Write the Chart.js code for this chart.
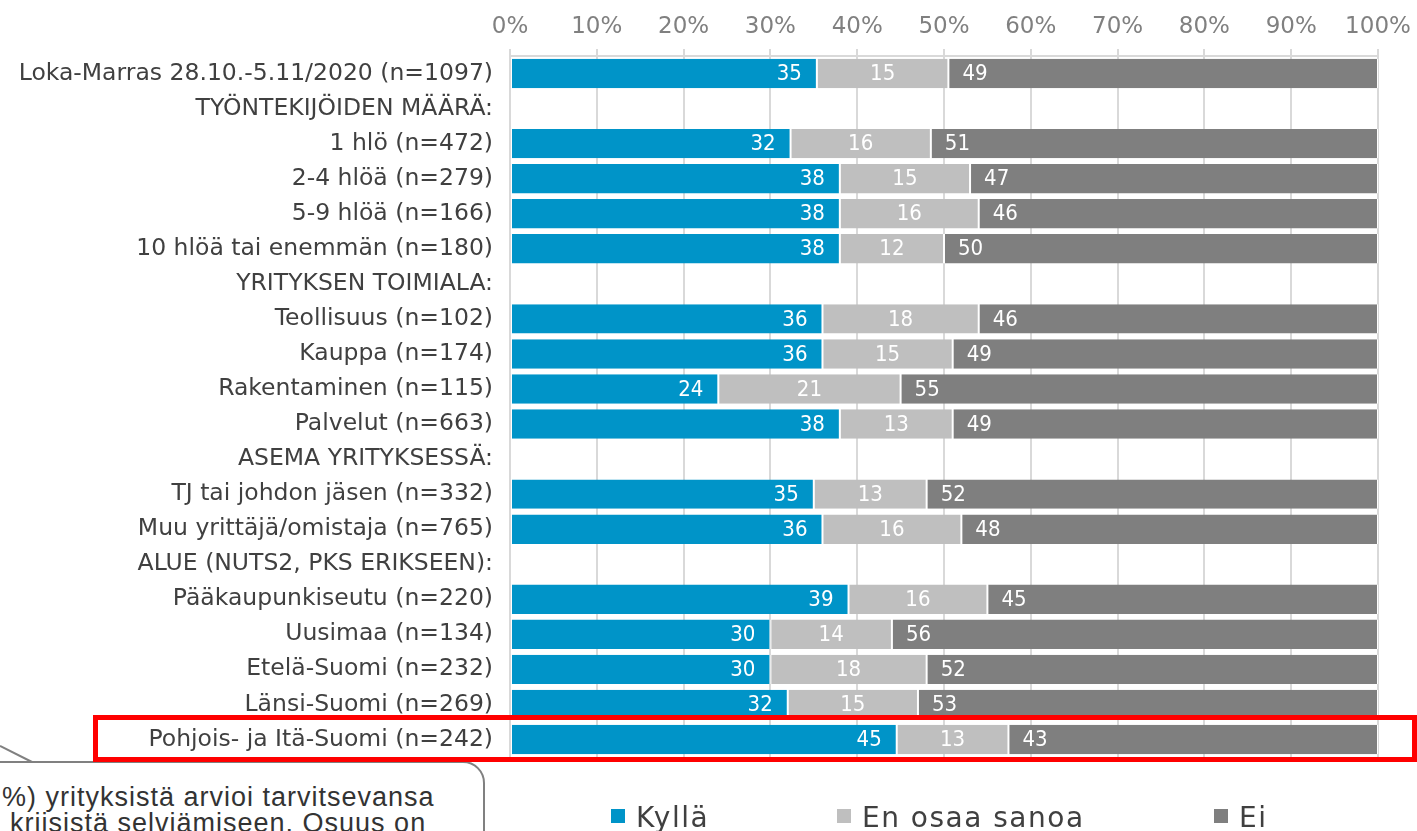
<!DOCTYPE html>
<html lang="fi">
<head>
  <meta charset="UTF-8">
  <title>Tarvitseeko yritys apua kriisistä selviämiseen</title>
  <script src="https://cdn.jsdelivr.net/npm/chart.js"></script>
  <style>
    body { margin: 0; background: #fff; overflow: hidden; }
    #wrap { position: relative; width: 1417px; height: 831px; overflow: hidden; }
    #chart { position: absolute; left: 0; top: 0; }
    .bubble { position: absolute; left: -30px; top: 761px; width: 515px; height: 150px; box-sizing: border-box;
              border: 2px solid #808080; border-radius: 22px; background: #fff; }
    .btext { position: absolute; font-family: 'Liberation Sans', Arial, sans-serif; font-size: 27px; line-height: 26px;
             letter-spacing: 1px; color: #333; white-space: nowrap; }
    .redbox { position: absolute; left: 93px; top: 715px; width: 1324px; height: 47px; box-sizing: border-box;
              border: 5px solid #ff0000; }
    .leg { position: absolute; top: 804px; font-family: 'DejaVu Sans', Verdana, sans-serif; font-size: 28px; line-height: 28px;
           letter-spacing: 1.5px; color: #404040; white-space: nowrap; }
    .leg i { position: absolute; top: 5px; width: 14px; height: 14px; }
  </style>
</head>
<body>
<div id="wrap">
  <canvas id="chart"></canvas>
  <svg width="60" height="80" style="position:absolute;left:0;top:740px">
    <line x1="0" y1="6" x2="32" y2="22" stroke="#808080" stroke-width="2"/>
  </svg>
  <div class="bubble"></div>
  <div class="btext" style="left:2px;top:784px">%) yrityksistä arvioi tarvitsevansa</div>
  <div class="btext" style="left:10px;top:810px">kriisistä selviämiseen. Osuus on</div>
  <div class="redbox"></div>
  <div id="legend"></div>
</div>

<script>
  const categories = [
    'Loka-Marras 28.10.-5.11/2020 (n=1097)',
    'TYÖNTEKIJÖIDEN MÄÄRÄ:',
    '1 hlö (n=472)',
    '2-4 hlöä (n=279)',
    '5-9 hlöä (n=166)',
    '10 hlöä tai enemmän (n=180)',
    'YRITYKSEN TOIMIALA:',
    'Teollisuus (n=102)',
    'Kauppa (n=174)',
    'Rakentaminen (n=115)',
    'Palvelut (n=663)',
    'ASEMA YRITYKSESSÄ:',
    'TJ tai johdon jäsen (n=332)',
    'Muu yrittäjä/omistaja (n=765)',
    'ALUE (NUTS2, PKS ERIKSEEN):',
    'Pääkaupunkiseutu (n=220)',
    'Uusimaa (n=134)',
    'Etelä-Suomi (n=232)',
    'Länsi-Suomi (n=269)',
    'Pohjois- ja Itä-Suomi (n=242)'
  ];
  const kylla   = [35, null, 32, 38, 38, 38, null, 36, 36, 24, 38, null, 35, 36, null, 39, 30, 30, 32, 45];
  const enOsaa  = [15, null, 16, 15, 16, 12, null, 18, 15, 21, 13, null, 13, 16, null, 16, 14, 18, 15, 13];
  const ei      = [49, null, 51, 47, 46, 50, null, 46, 49, 55, 49, null, 52, 48, null, 45, 56, 52, 53, 43];
  const seriesNames  = ['Kyllä', 'En osaa sanoa', 'Ei'];
  const seriesColors = ['#0094c8', '#bfbfbf', '#7f7f7f'];
  const xTicks = [0, 10, 20, 30, 40, 50, 60, 70, 80, 90, 100];

  const raw = [kylla, enOsaa, ei];
  // 100 % pinottu: skaalataan rivin summa sataan
  const pct = raw.map(s => s.map((v, i) => {
    if (v == null) return null;
    const tot = kylla[i] + enOsaa[i] + ei[i];
    return v / tot * 100;
  }));

  // legenda
  const legX = [611, 837, 1214];
  document.getElementById('legend').innerHTML = seriesNames.map((n, i) =>
    `<div class="leg" style="left:${legX[i] + 25}px"><i style="left:-25px;background:${seriesColors[i]}"></i>${n}</div>`
  ).join('');

  const barLabels = {
    id: 'barLabels',
    afterDatasetsDraw(chart) {
      const ctx = chart.ctx;
      ctx.save();
      ctx.font = '22px "DejaVu Sans Condensed", "DejaVu Sans", sans-serif';
      ctx.fillStyle = '#ffffff';
      ctx.textBaseline = 'middle';
      chart.data.datasets.forEach((ds, d) => {
        chart.getDatasetMeta(d).data.forEach((el, i) => {
          const v = raw[d][i];
          if (v == null) return;
          const y = el.y + 1;
          if (d === 0) { ctx.textAlign = 'right'; ctx.fillText(v, el.x - 15, y); }
          else if (d === 1) { ctx.textAlign = 'center'; ctx.fillText(v, (el.x + el.base) / 2, y); }
          else { ctx.textAlign = 'left'; ctx.fillText(v, el.base + 14, y); }
        });
      });
      ctx.restore();
    }
  };

  new Chart(document.getElementById('chart'), {
    type: 'bar',
    data: {
      labels: categories,
      datasets: seriesNames.map((n, i) => ({
        label: n,
        data: pct[i],
        backgroundColor: seriesColors[i],
        borderColor: '#ffffff',
        borderWidth: { left: 1, right: 1, top: 0, bottom: 0 },
        borderSkipped: false,
        barPercentage: 0.84,
        categoryPercentage: 1
      }))
    },
    options: {
      indexAxis: 'y',
      responsive: true,
      maintainAspectRatio: false,
      animation: false,
      layout: { padding: { left: 0, right: 39, top: 0, bottom: 74 } },
      plugins: { legend: { display: false }, tooltip: { enabled: false } },
      scales: {
        x: {
          position: 'top',
          stacked: true,
          min: 0, max: 100,
          afterBuildTicks: s => { s.ticks = xTicks.map(v => ({ value: v })); },
          afterFit: s => { s.height = 56; s.paddingLeft = 0; s.paddingRight = 0; },
          ticks: {
            callback: v => v + '%',
            color: '#808080',
            padding: 8,
            font: { family: "'DejaVu Sans', Verdana, sans-serif", size: 23 }
          },
          grid: { color: '#d9d9d9', lineWidth: 2, tickLength: 7, drawTicks: true },
          border: { display: true, color: '#d9d9d9', width: 2 }
        },
        y: {
          stacked: true,
          afterFit: s => { s.width = 510; },
          ticks: {
            autoSkip: false,
            color: '#404040',
            padding: 17,
            font: { family: "'DejaVu Sans', Verdana, sans-serif", size: 23.5 }
          },
          grid: { display: false, drawTicks: false },
          border: { display: false }
        }
      }
    },
    plugins: [barLabels]
  });
</script>
</body>
</html>
